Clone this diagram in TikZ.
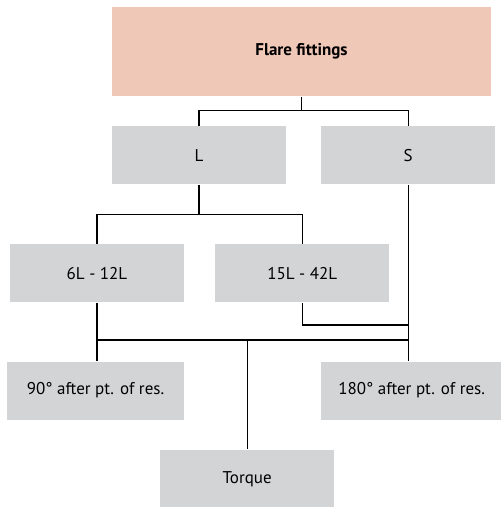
\documentclass[tikz,border=0pt]{standalone}
\usepackage{fontspec}
\setmainfont{PT Sans}
\usepackage{xcolor}
\usetikzlibrary{positioning}

\definecolor{peach}{RGB}{240,200,184}
\definecolor{boxgray}{RGB}{211,212,214}

\begin{document}
\begin{tikzpicture}[font=\fontsize{17}{20}\selectfont, line width=1.2pt]
  \tikzset{
    optbox/.style={fill=boxgray, minimum width=174pt, minimum height=58pt, align=center, inner sep=0pt},
    headbox/.style={fill=peach, minimum width=379pt, minimum height=89pt, align=center, font=\fontsize{17}{20}\selectfont\bfseries}
  }
  \useasboundingbox (0,0) rectangle (501pt,-507pt);
  \node[headbox] (flare) at (301.5pt,-51.5pt) {Flare fittings};
  \node[optbox, below right=29pt and 0pt of flare.south west] (L) {L};
  \node[optbox, right=34pt of L] (S) {S};
  \node[optbox, below=59pt of L, xshift=-102pt] (sixL) {6L - 12L};
  \node[optbox, right=30pt of sixL] (fifteenL) {15L - 42L};
  \node[optbox, minimum width=177pt, below=58pt of sixL, xshift=-1.5pt] (ninety) {90° after pt. of res.};
  \node[optbox, minimum width=181pt, right=136pt of ninety] (oneeighty) {180° after pt. of res.};
  \node[optbox, below right=29pt and -25pt of ninety.south east] (torque) {Torque};
  % Junction points
  \coordinate[below=14pt of flare.south] (jtop);
  \coordinate[below=30pt of L.south] (jmid);
  \coordinate[below=22pt of fifteenL.south] (jlow);
  \coordinate[below=37pt of sixL.south] (jbot);
  % Flare fittings -> L / S
  \draw (flare) -- (jtop);
  \draw (L.north) |- (jtop) -| (S.north);
  % L -> sizes
  \draw (L) -- (jmid);
  \draw (sixL.north) |- (jmid) -| (fifteenL.north);
  % sizes and S -> methods
  \draw (S.south) -- (S.south |- oneeighty.north);
  \draw (fifteenL.south) -- (jlow) -- (jlow -| S.south);
  \draw (sixL.south) -- (sixL.south |- ninety.north);
  \draw (jbot) -- (jbot -| S.south);
  \draw (jbot -| torque.north) -- (torque.north);
\end{tikzpicture}
\end{document}
